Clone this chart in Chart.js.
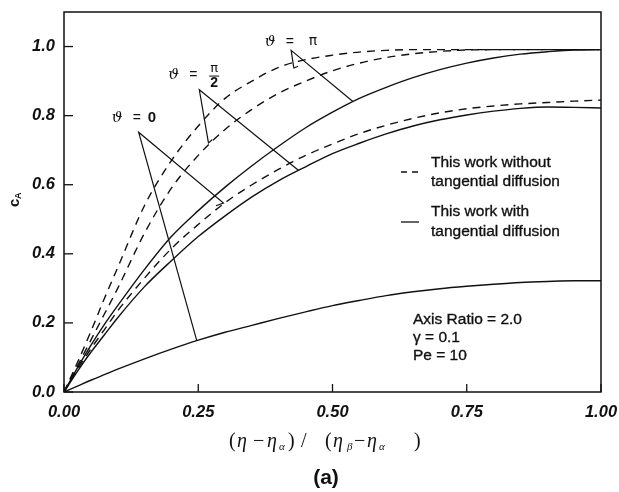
<!DOCTYPE html>
<html>
<head>
<meta charset="utf-8">
<script src="https://cdn.jsdelivr.net/npm/chart.js@4.4.1/dist/chart.umd.min.js"></script>
<style>
  html, body { margin: 0; padding: 0; background: #fff; }
  #wrap { width: 619px; height: 492px; }
</style>
</head>
<body>
<div id="wrap"><canvas id="c" width="619" height="492"></canvas></div>
<script>
// Dimensionless position across the gap
const xValues = [0, 0.025, 0.05, 0.075, 0.1, 0.15, 0.2, 0.25, 0.3, 0.35, 0.4, 0.45, 0.5,
                 0.55, 0.6, 0.65, 0.7, 0.75, 0.8, 0.85, 0.9, 0.95, 1.0];

// c_A without tangential diffusion (dashed)
const noTanPi     = [0, 0.085, 0.175, 0.27, 0.36, 0.54, 0.67, 0.77, 0.85, 0.90, 0.94, 0.962, 0.975,
                     0.984, 0.989, 0.991, 0.991, 0.991, 0.991, 0.991, 0.991, 0.991, 0.991];
const noTanHalfPi = [0, 0.075, 0.15, 0.225, 0.30, 0.46, 0.59, 0.685, 0.76, 0.818, 0.865, 0.90, 0.93,
                     0.952, 0.968, 0.979, 0.986, 0.99, 0.991, 0.991, 0.991, 0.991, 0.991];
const noTanZero   = [0, 0.065, 0.125, 0.18, 0.235, 0.33, 0.415, 0.485, 0.548, 0.60, 0.645, 0.685, 0.718,
                     0.748, 0.772, 0.792, 0.808, 0.82, 0.828, 0.834, 0.838, 0.842, 0.845];

// c_A with tangential diffusion (solid)
const tanPi       = [0, 0.07, 0.135, 0.195, 0.25, 0.355, 0.45, 0.525, 0.593, 0.655, 0.712, 0.765, 0.81,
                     0.85, 0.882, 0.91, 0.933, 0.952, 0.967, 0.978, 0.985, 0.99, 0.991];
const tanHalfPi   = [0, 0.06, 0.115, 0.165, 0.215, 0.305, 0.38, 0.45, 0.51, 0.565, 0.612, 0.652, 0.69,
                     0.72, 0.747, 0.77, 0.788, 0.802, 0.813, 0.821, 0.825, 0.824, 0.822];
const tanZero     = [0, 0.017, 0.034, 0.05, 0.066, 0.096, 0.124, 0.15, 0.173, 0.193, 0.213, 0.232, 0.25,
                     0.265, 0.279, 0.29, 0.299, 0.306, 0.312, 0.317, 0.32, 0.322, 0.322];

// Leader lines joining each ϑ label to its pair of curves
const leaderPi     = [{x: 0.436, y: 0.943}, {x: 0.428, y: 0.938}, {x: 0.423, y: 0.989}, {x: 0.538, y: 0.841}];
const leaderHalfPi = [{x: 0.276, y: 0.730}, {x: 0.269, y: 0.721}, {x: 0.252, y: 0.875}, {x: 0.437, y: 0.641}];
const leaderZero   = [{x: 0.283, y: 0.539}, {x: 0.297, y: 0.547}, {x: 0.139, y: 0.752}, {x: 0.247, y: 0.150}];

// Axis ticks and their labels
const xTicks = [0, 0.25, 0.5, 0.75, 1.0];
const xTickLabels = ['0.00', '0.25', '0.50', '0.75', '1.00'];
const yTicks = [0, 0.2, 0.4, 0.6, 0.8, 1.0];
const yTickLabels = ['0.0', '0.2', '0.4', '0.6', '0.8', '1.0'];

const INK = '#111';

const pts = ys => xValues.map((x, i) => ({x, y: ys[i]}));

function curve(ys, dashed) {
  return {
    data: pts(ys), showLine: true, borderColor: INK, borderWidth: 1.4,
    borderDash: dashed ? [8, 6] : [], pointRadius: 0, cubicInterpolationMode: 'monotone', fill: false
  };
}
function leader(p) {
  return { data: p, showLine: true, borderColor: INK, borderWidth: 1.2, pointRadius: 0, tension: 0, fill: false };
}

function line(ctx, x1, y1, x2, y2) {
  ctx.beginPath(); ctx.moveTo(x1, y1); ctx.lineTo(x2, y2); ctx.stroke();
}

const SANS = '"Liberation Sans", Arial, sans-serif';
const SERIF = '"Liberation Serif", "DejaVu Serif", serif';

// slightly heavier text, like the printed figure
function heavyText(ctx, t, px, py) {
  ctx.fillText(t, px, py);
  ctx.lineWidth = 0.35;
  ctx.strokeText(t, px, py);
}

function thetaLabel(ctx, px, py, rhs) {
  ctx.textBaseline = 'middle';
  ctx.textAlign = 'left';
  ctx.font = 'italic 15px "DejaVu Serif", serif';
  ctx.fillText('ϑ', px, py);
  ctx.font = '14px ' + SANS;
  ctx.fillText('=', px + 21, py);
  rhs(px, py);
}

const decor = {
  id: 'figureDecor',
  afterDatasetsDraw(chart) {
    const {ctx, chartArea: a, scales: {x, y}} = chart;
    ctx.save();
    ctx.strokeStyle = INK;
    ctx.fillStyle = INK;
    ctx.lineWidth = 1.5;
    ctx.strokeRect(a.left, a.top, a.right - a.left, a.bottom - a.top);

    // inward tick marks
    ctx.lineWidth = 1.3;
    xTicks.forEach(v => { const px = x.getPixelForValue(v); line(ctx, px, a.bottom, px, a.bottom - 8); });
    yTicks.forEach(v => { const py = y.getPixelForValue(v); line(ctx, a.left, py, a.left + 9, py); });

    // ϑ labels
    thetaLabel(ctx, x.getPixelForValue(0.089), y.getPixelForValue(0.794), (px, py) => {
      ctx.font = 'bold 15px ' + SANS; ctx.fillText('0', px + 36, py);
    });
    thetaLabel(ctx, x.getPixelForValue(0.194), y.getPixelForValue(0.916), (px, py) => {
      ctx.textAlign = 'center';
      ctx.font = '13px "DejaVu Sans", sans-serif'; ctx.fillText('π', px + 46, py - 7);
      ctx.lineWidth = 1; line(ctx, px + 41, py + 0.5, px + 51, py + 0.5);
      ctx.font = 'bold 14px ' + SANS; ctx.fillText('2', px + 46, py + 8);
    });
    thetaLabel(ctx, x.getPixelForValue(0.374), y.getPixelForValue(1.014), (px, py) => {
      ctx.font = '14px "DejaVu Sans", sans-serif'; ctx.fillText('π', px + 44, py);
    });

    // legend
    const lx = 401;
    ctx.lineWidth = 1.3;
    ctx.setLineDash([6, 5]); line(ctx, lx, 172, lx + 18, 172);
    ctx.setLineDash([]); line(ctx, lx, 222, lx + 18, 222);
    ctx.font = '15.5px ' + SANS;
    ctx.textAlign = 'left'; ctx.textBaseline = 'middle';
    heavyText(ctx, 'This work without', 431, 163);
    heavyText(ctx, 'tangential diffusion', 431, 182);
    heavyText(ctx, 'This work with', 431, 212);
    heavyText(ctx, 'tangential diffusion', 431, 232);

    // parameters
    heavyText(ctx, 'Axis Ratio = 2.0', 413, 320);
    heavyText(ctx, 'γ = 0.1', 413, 338);
    heavyText(ctx, 'Pe = 10', 413, 356);

    // x axis title
    const ty = 442;
    const parts = [
      ['(', 229, 'n'], ['η', 237, 'i'], ['−', 253, 'n'], ['η', 267, 'i'], ['α', 279, 's'], [')', 288, 'n'],
      ['/', 301, 'n'], ['(', 325, 'n'], ['η', 333, 'i'], ['β', 347, 's'], ['−', 354, 'n'],
      ['η', 367, 'i'], ['α', 379, 's'], [')', 414, 'n']
    ];
    parts.forEach(([t, px, k]) => {
      if (k === 'n') { ctx.font = '20px ' + SERIF; ctx.fillText(t, px, ty); }
      else if (k === 'i') { ctx.font = 'italic 20px ' + SERIF; ctx.fillText(t, px, ty); }
      else { ctx.font = 'italic 11px ' + SERIF; ctx.fillText(t, px, ty + 5); }
    });

    // y axis title
    ctx.save();
    ctx.translate(16, 201);
    ctx.rotate(-Math.PI / 2);
    ctx.textAlign = 'left';
    ctx.font = 'bold 15px ' + SANS;
    ctx.fillText('c', -6, -1);
    ctx.font = 'bold 9px ' + SANS;
    ctx.fillText('A', 2, 3);
    ctx.restore();

    // panel tag
    ctx.textAlign = 'center';
    ctx.font = 'bold 21px ' + SANS;
    ctx.fillText('(a)', 326, 478);
    ctx.restore();
  }
};

new Chart(document.getElementById('c'), {
  type: 'scatter',
  data: {
    datasets: [
      curve(noTanPi, true), curve(noTanHalfPi, true), curve(noTanZero, true),
      curve(tanPi, false), curve(tanHalfPi, false), curve(tanZero, false),
      leader(leaderPi), leader(leaderHalfPi), leader(leaderZero)
    ]
  },
  options: {
    responsive: false,
    animation: false,
    devicePixelRatio: 1,
    layout: { padding: { left: 0, right: 18, top: 12, bottom: 0 } },
    plugins: { legend: { display: false }, tooltip: { enabled: false } },
    scales: {
      x: {
        type: 'linear', min: 0, max: 1,
        grid: { display: false, drawTicks: false },
        border: { display: false },
        afterBuildTicks: s => { s.ticks = xTicks.map(v => ({value: v})); },
        afterFit: s => { s.height = 100; s.paddingLeft = 0; s.paddingRight = 0; },
        ticks: {
          padding: 11, color: INK,
          font: { family: SANS, size: 16.5, style: 'italic', weight: 'bold' },
          callback: (v, i) => xTickLabels[i]
        }
      },
      y: {
        type: 'linear', min: 0, max: 1.1,
        grid: { display: false, drawTicks: false },
        border: { display: false },
        afterBuildTicks: s => { s.ticks = yTicks.map(v => ({value: v})); },
        afterFit: s => { s.width = 64; s.paddingTop = 0; s.paddingBottom = 0; },
        ticks: {
          padding: 9, color: INK,
          font: { family: SANS, size: 16.5, style: 'italic', weight: 'bold' },
          callback: (v, i) => yTickLabels[i]
        }
      }
    }
  },
  plugins: [decor]
});
</script>
</body>
</html>
